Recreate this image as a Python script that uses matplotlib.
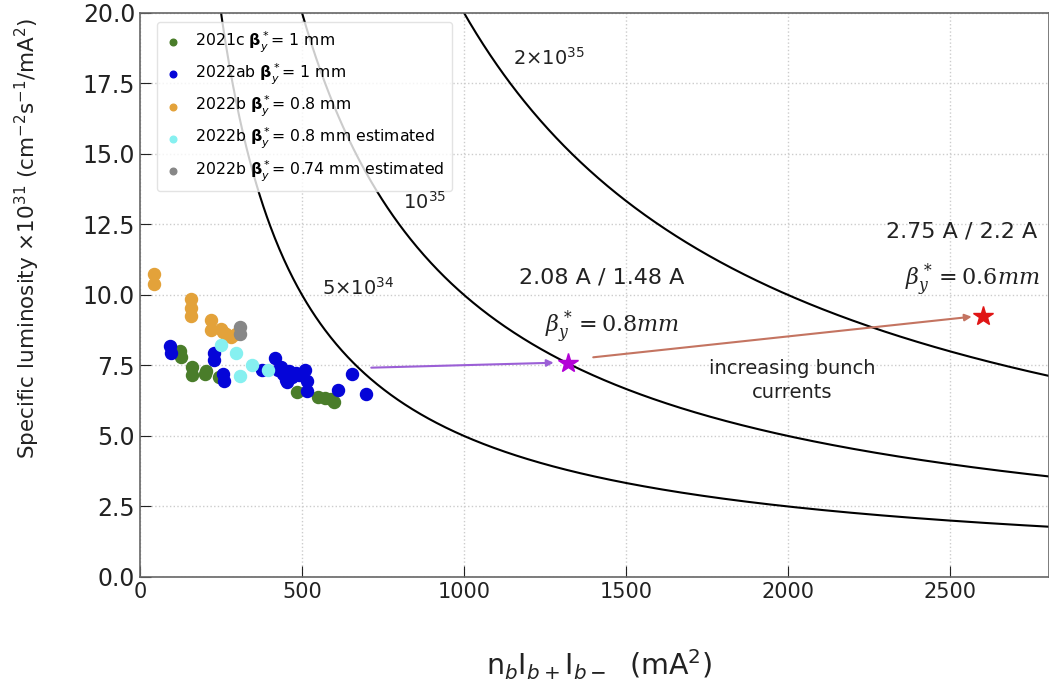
import numpy as np
import matplotlib
matplotlib.use("Agg")
import matplotlib.pyplot as plt

# measured points (x: nb*Ib+*Ib- in mA^2, y: specific luminosity x1e31)
green_x = [123, 125, 160, 160, 200, 205, 244, 484, 550, 570, 590, 598]
green_y = [8.0, 7.8, 7.45, 7.15, 7.2, 7.3, 7.1, 6.55, 6.4, 6.35, 6.3, 6.2]

blue_x = [93, 95, 228, 228, 256, 258, 377, 417, 425, 435, 440, 450, 455, 460, 470,
          480, 490, 509, 515, 515, 611, 654, 698]
blue_y = [8.2, 7.95, 7.95, 7.7, 7.2, 6.95, 7.35, 7.78, 7.35, 7.45, 7.2, 7.0, 6.9, 7.3,
          7.1, 7.25, 7.15, 7.35, 6.95, 6.6, 6.64, 7.2, 6.5]

orange_x = [43, 43, 157, 157, 157, 219, 219, 250, 255, 265, 280, 295]
orange_y = [10.75, 10.4, 9.85, 9.55, 9.25, 9.1, 8.75, 8.8, 8.7, 8.6, 8.5, 8.6]

cyan_x = [250, 296, 309, 346, 395]
cyan_y = [8.24, 7.95, 7.14, 7.5, 7.35]

gray_x = [310, 310]
gray_y = [8.85, 8.6]

# iso-luminosity lines (cm^-2 s^-1)
lumis = [5e34, 1e35, 2e35]
lumi_labels = [r"5$\times$10$^{34}$", r"10$^{35}$", r"2$\times$10$^{35}$"]
lumi_label_pos = [(562, 10.25), (812, 13.3), (1150, 18.4)]

# design points
star1 = (1321, 7.6)
star2 = (2600, 9.27)

fig = plt.figure(figsize=(10.49, 6.95), dpi=100)
ax = fig.add_axes([0.1335, 0.1698, 0.8665, 0.8115])

xx = np.linspace(1, 2810, 800)
for L in lumis:
    ax.plot(xx, L / 1e31 / xx, color="black", lw=1.5, zorder=2)
for lab, (tx, ty) in zip(lumi_labels, lumi_label_pos):
    ax.text(tx, ty, lab, fontsize=14, color="#222222", ha="left", va="center", zorder=6)

s = 75
ax.scatter(green_x, green_y, s=s, color="#4a7d2a", label=r"2021c $\mathbf{\beta}_y^*$= 1 mm", zorder=3)
ax.scatter(blue_x, blue_y, s=s, color="#0505d8", label=r"2022ab $\mathbf{\beta}_y^*$= 1 mm", zorder=3)
ax.scatter(orange_x, orange_y, s=s, color="#e3a23a", label=r"2022b $\mathbf{\beta}_y^*$= 0.8 mm", zorder=3)
ax.scatter(cyan_x, cyan_y, s=s, color="#86f0f0", label=r"2022b $\mathbf{\beta}_y^*$= 0.8 mm estimated", zorder=3)
ax.scatter(gray_x, gray_y, s=s, color="#878787", label=r"2022b $\mathbf{\beta}_y^*$= 0.74 mm estimated", zorder=3)

ax.plot(*star1, marker="*", color="#b300d6", ms=15, zorder=4)
ax.plot(*star2, marker="*", color="#e01515", ms=15, zorder=4)

ax.annotate("", xy=(1285, 7.6), xytext=(705, 7.42),
            arrowprops=dict(arrowstyle="-|>", color="#9b5fd6", lw=1.5, mutation_scale=10))
ax.annotate("", xy=(2575, 9.24), xytext=(1390, 7.78),
            arrowprops=dict(arrowstyle="-|>", color="#c47461", lw=1.5, mutation_scale=10))

ax.text(1424, 10.62, "2.08 A / 1.48 A", fontsize=16, ha="center", va="center", color="#222222")
ax.text(1457, 8.88, r"$\beta_y^* = 0.8mm$", fontsize=16, ha="center", va="center",
        math_fontfamily="dejavuserif", color="#222222")
ax.text(2534, 12.26, "2.75 A / 2.2 A", fontsize=16, ha="center", va="center", color="#222222")
ax.text(2568, 10.55, r"$\beta_y^* = 0.6mm$", fontsize=16, ha="center", va="center",
        math_fontfamily="dejavuserif", color="#222222")
ax.text(2012, 6.96, "increasing bunch\ncurrents", fontsize=14, ha="center", va="center",
        color="#222222", linespacing=1.3)

ax.set_xlim(0, 2805)
ax.set_ylim(0, 20)
ax.set_yticks(np.arange(0, 20.1, 2.5))
ax.set_xticks([0, 500, 1000, 1500, 2000, 2500])
ax.grid(True, color="#cccccc", ls=":", lw=1)
ax.set_axisbelow(True)
ax.tick_params(direction="in", length=8, colors="#222222")
ax.tick_params(axis="y", labelsize=17)
ax.tick_params(axis="x", labelsize=15)
for sp in ax.spines.values():
    sp.set_color("#666666")
    sp.set_linewidth(1.2)

ax.set_ylabel(r"Specific luminosity $\times$10$^{31}$ (cm$^{-2}$s$^{-1}$/mA$^2$)", fontsize=15.5, color="#222222")
ax.yaxis.set_label_coords(-0.108, 0.6)
ax.set_xlabel(r"n$_b$I$_{b+}$I$_{b-}$  (mA$^2$)", fontsize=20.5, color="#222222")
ax.xaxis.set_label_coords(0.505, -0.125)

leg = ax.legend(loc="upper left", bbox_to_anchor=(0.01, 0.998), fontsize=11.3, markerscale=0.55,
                frameon=True, framealpha=0.8, edgecolor="#dddddd", labelspacing=0.45,
                handletextpad=0.9, borderpad=0.5, handlelength=1.0)
leg.set_zorder(5)

fig.savefig("out.png", dpi=100)
